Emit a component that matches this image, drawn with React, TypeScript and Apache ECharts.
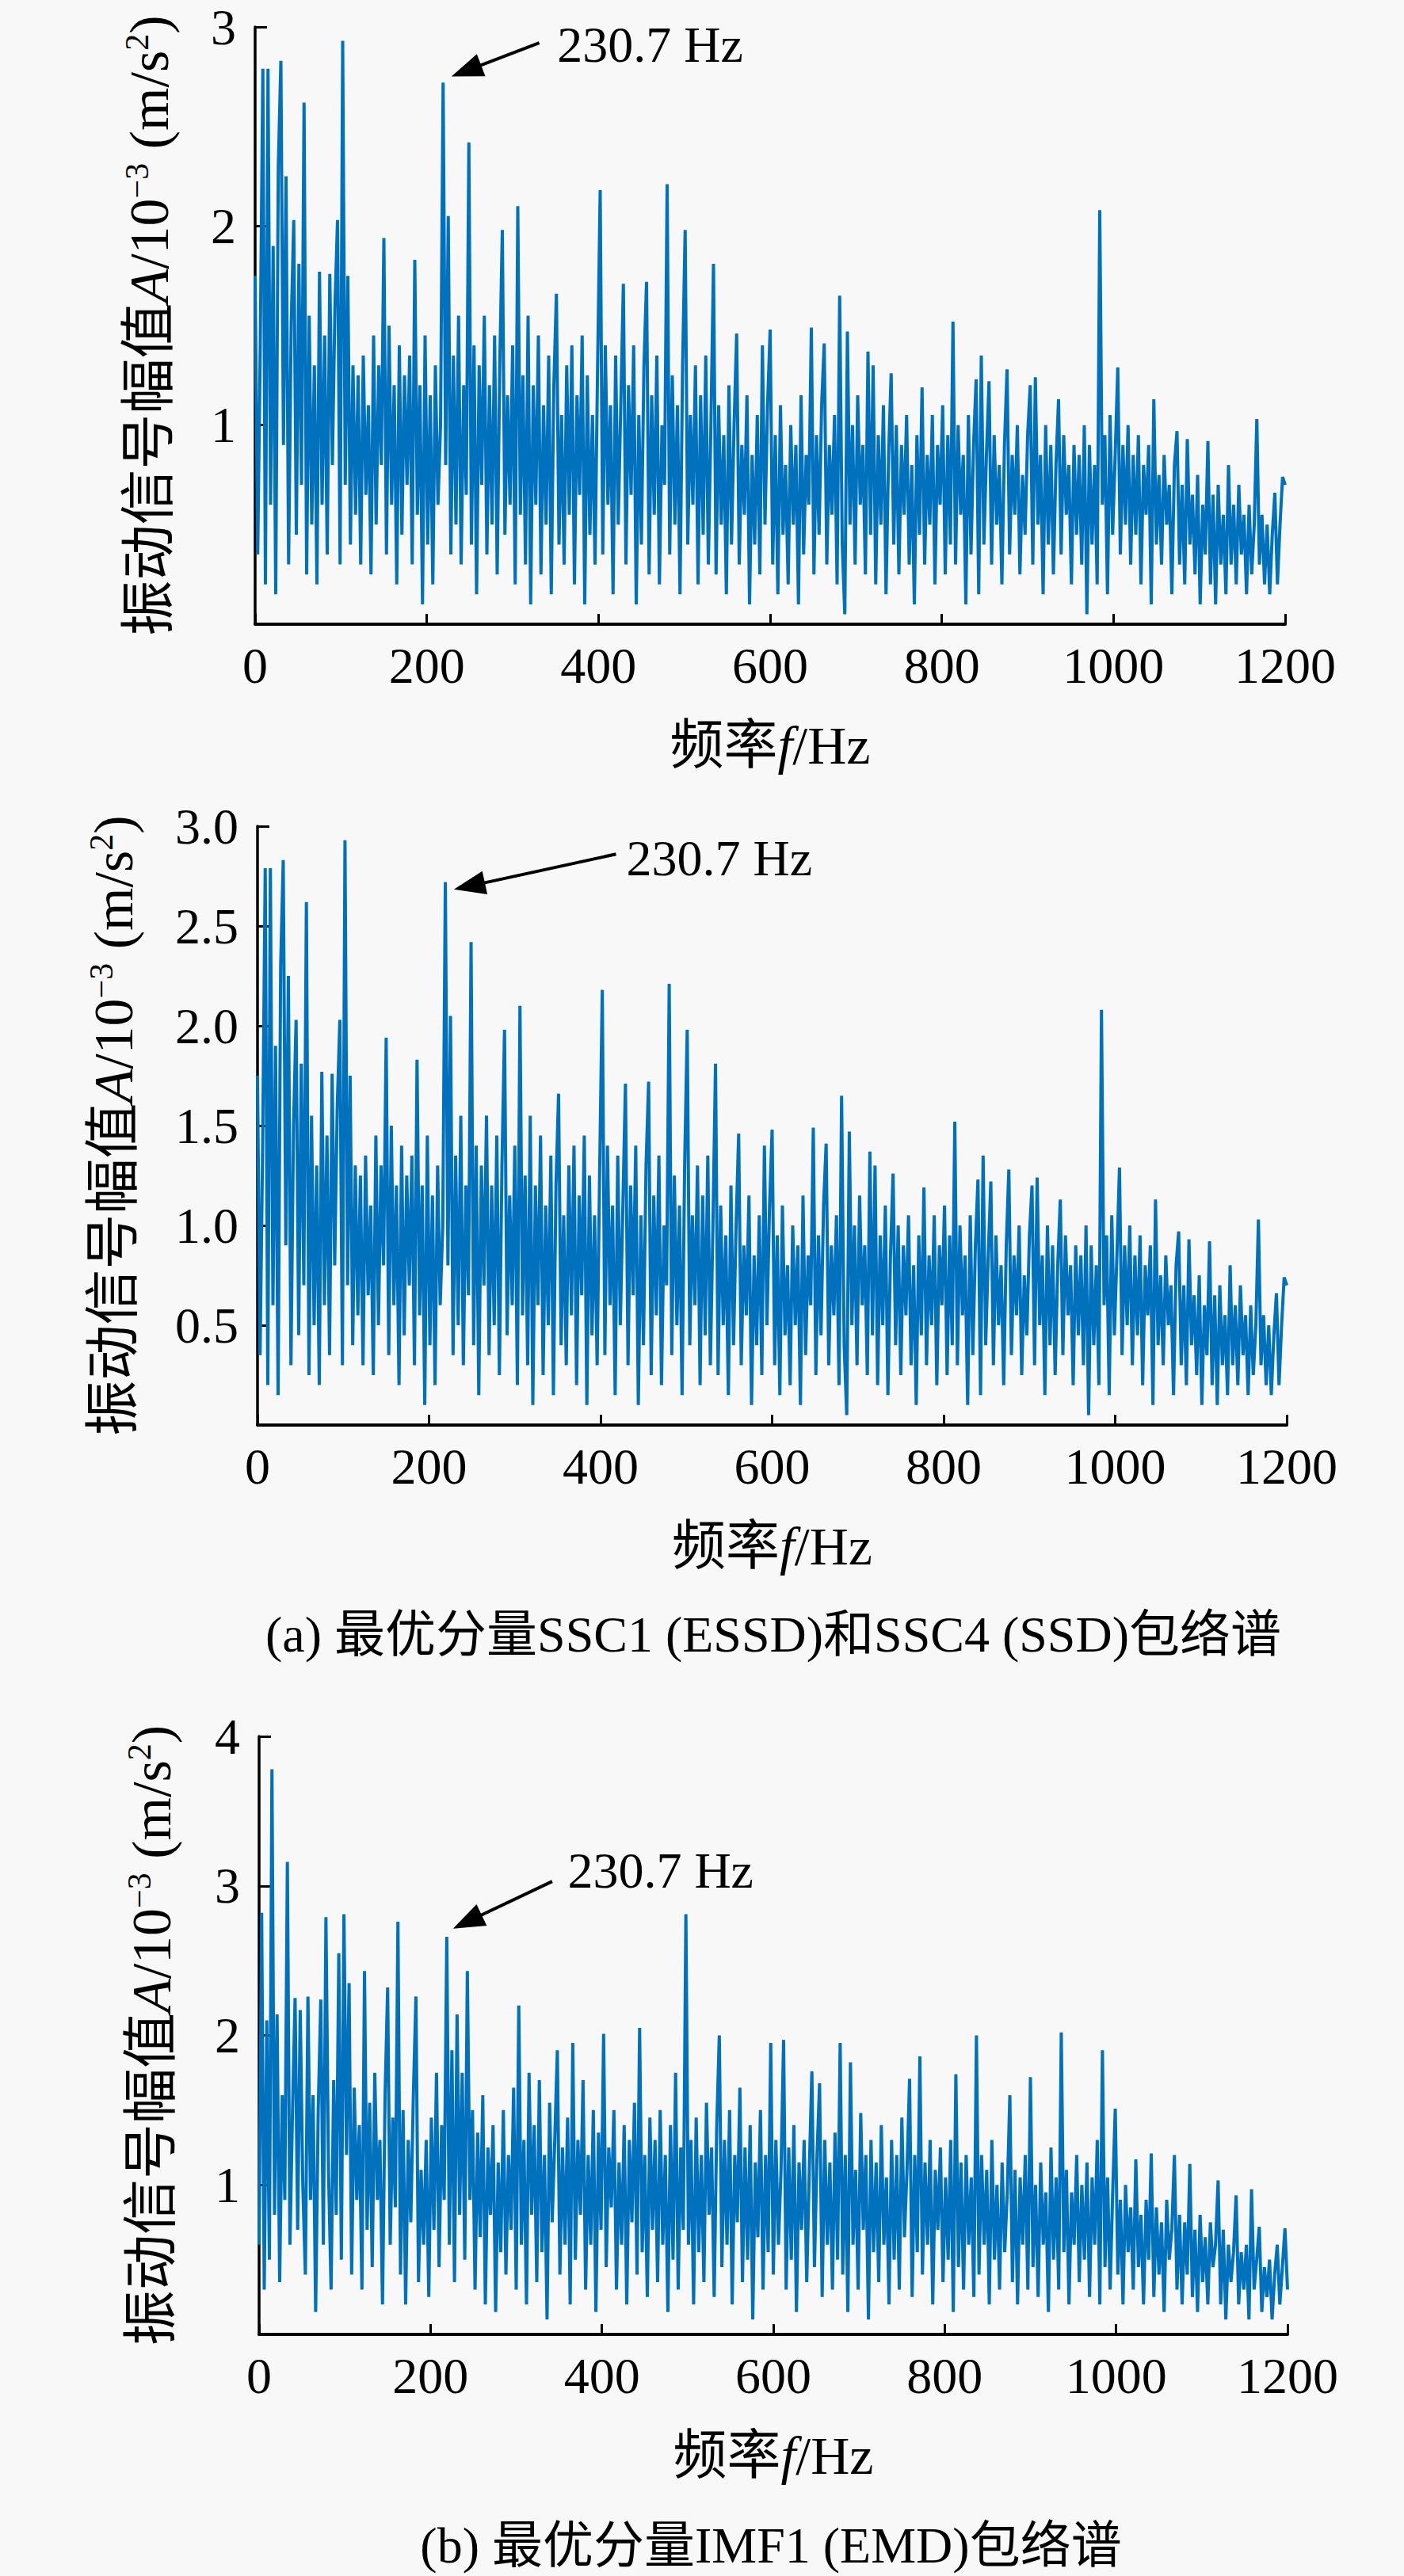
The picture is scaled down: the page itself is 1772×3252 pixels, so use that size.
import { useEffect, useRef } from "react";
import * as echarts from "echarts";

// envelope spectra, one value every freqStep Hz from 0 to 1200 Hz
const freqStep = 3;

// optimal component SSC1 (ESSD) / SSC4 (SSD) - same spectrum drawn twice
const ampSSC = [
  1.75, 0.35, 1.4, 2.79, 0.2, 2.79, 0.6, 1.9, 0.15, 2.3, 2.83, 0.9, 2.25, 0.3, 1.5, 2.03, 0.45, 1.81, 0.7, 2.62,
  0.25, 1.55, 0.5, 1.3, 0.2, 1.77, 0.6, 1.45, 0.35, 1.76, 0.8, 1.6, 2.03, 0.3, 2.93, 0.7, 1.75, 0.4, 1.3, 0.55,
  1.25, 0.3, 1.35, 0.65, 1.1, 0.25, 1.45, 0.5, 1.3, 0.8, 1.94, 0.35, 1.5, 0.6, 1.2, 0.2, 1.4, 0.45, 1.25, 0.7,
  1.35, 0.3, 1.83, 0.55, 1.2, 0.1, 1.45, 0.4, 1.15, 0.2, 1.3, 0.6, 1.0, 2.72, 0.8, 2.05, 0.35, 1.35, 0.5, 1.55,
  0.3, 1.2, 0.65, 2.42, 0.4, 1.4, 0.15, 1.3, 0.7, 1.55, 0.35, 1.2, 0.5, 1.45, 0.25, 1.3, 1.98, 0.45, 1.15, 0.6,
  1.4, 0.2, 2.1, 0.55, 1.25, 0.3, 1.55, 0.1, 1.2, 0.6, 1.45, 0.25, 1.1, 0.5, 1.35, 0.15, 1.2, 1.66, 0.4, 1.05,
  0.3, 1.3, 0.55, 1.4, 0.2, 1.15, 0.65, 1.45, 0.1, 1.25, 0.45, 1.05, 0.3, 1.3, 2.18, 0.35, 1.4, 0.6, 1.1, 0.15,
  1.35, 0.5, 1.1, 1.71, 0.3, 1.2, 0.65, 1.4, 0.1, 1.05, 0.4, 1.3, 1.72, 0.25, 1.15, 0.55, 1.35, 0.2, 1.0, 0.7,
  2.21, 0.35, 1.25, 0.5, 1.1, 0.15, 1.3, 1.98, 0.4, 1.05, 0.6, 1.3, 0.2, 1.15, 0.45, 1.35, 0.3, 1.0, 1.81, 0.25,
  1.1, 0.5, 0.95, 0.15, 1.2, 0.4, 1.0, 1.46, 0.3, 0.9, 0.55, 1.15, 0.1, 0.85, 0.4, 1.05, 0.25, 1.4, 0.5, 1.1,
  1.48, 0.3, 0.95, 0.15, 1.1, 0.45, 0.8, 0.2, 1.0, 0.5, 0.9, 0.1, 1.15, 0.35, 0.85, 0.6, 1.49, 0.25, 0.95, 0.45,
  1.1, 1.41, 0.3, 0.9, 0.55, 1.05, 0.2, 1.65, 0.4, 0.05, 1.47, 0.5, 1.0, 0.3, 1.15, 0.6, 0.9, 0.25, 1.37, 0.45,
  1.3, 0.2, 0.95, 0.5, 1.1, 0.15, 0.85, 1.26, 0.4, 1.0, 0.25, 0.9, 0.55, 1.05, 0.3, 0.8, 0.1, 0.95, 0.45, 1.19,
  0.3, 0.85, 0.5, 1.05, 0.2, 0.9, 0.6, 1.1, 0.25, 0.95, 0.4, 1.52, 0.3, 1.0, 0.55, 0.85, 0.1, 1.05, 0.35, 0.9,
  1.23, 0.15, 1.35, 0.4, 0.85, 1.22, 0.3, 0.95, 0.5, 0.8, 0.2, 0.9, 1.28, 0.35, 0.85, 0.55, 1.0, 0.25, 0.75, 0.45,
  0.95, 1.2, 0.3, 1.24, 0.5, 0.85, 0.15, 1.0, 0.4, 0.9, 0.25, 0.8, 1.13, 0.35, 0.95, 0.55, 0.8, 0.2, 0.9, 0.45,
  0.85, 0.3, 1.0, 0.05, 0.9, 0.4, 0.8, 0.2, 2.08, 0.6, 0.95, 0.15, 1.05, 0.45, 0.85, 1.29, 0.35, 0.9, 0.5, 1.0,
  0.3, 0.85, 0.45, 0.95, 0.2, 0.8, 0.55, 0.9, 0.1, 1.13, 0.4, 0.75, 0.3, 0.85, 0.5, 0.7, 0.15, 0.8, 0.97, 0.3,
  0.7, 0.2, 0.93, 0.4, 0.65, 0.25, 0.75, 0.1, 0.6, 0.35, 0.92, 0.2, 0.65, 0.1, 0.7, 0.3, 0.55, 0.15, 0.8, 0.3,
  0.6, 0.2, 0.7, 0.35, 0.55, 0.15, 0.6, 0.25, 0.5, 1.03, 0.3, 0.55, 0.2, 0.5, 0.15, 0.45, 0.66, 0.2, 0.5, 0.74,
  0.7,
];

// optimal component IMF1 (EMD)
const ampIMF = [
  0.6, 2.82, 0.3, 2.1, 0.5, 3.78, 0.8, 2.14, 0.35, 1.6, 0.9, 3.16, 0.6, 1.5, 2.25, 0.7, 2.17, 1.0, 0.4, 2.26,
  0.9, 1.6, 0.15, 1.5, 2.24, 0.6, 2.79, 1.1, 0.3, 1.7, 0.8, 2.55, 0.5, 2.81, 1.2, 2.35, 0.4, 1.65, 0.9, 1.4,
  0.3, 2.43, 0.7, 1.55, 0.45, 1.75, 0.9, 1.3, 0.2, 1.6, 2.32, 0.6, 1.45, 0.85, 2.76, 0.4, 1.5, 0.2, 1.3, 0.75,
  1.6, 2.26, 0.35, 1.1, 0.6, 1.3, 0.25, 1.45, 0.7, 1.75, 0.45, 1.4, 0.9, 2.66, 0.6, 1.9, 0.35, 2.14, 0.8, 1.75,
  0.5, 2.43, 0.9, 1.5, 0.3, 1.35, 0.65, 1.6, 0.2, 1.25, 0.8, 1.4, 0.15, 1.15, 0.55, 1.5, 0.4, 1.2, 0.7, 1.65,
  0.3, 2.2, 0.6, 1.3, 0.2, 1.75, 0.8, 1.4, 0.35, 1.7, 0.55, 1.2, 0.1, 1.55, 0.75, 1.3, 1.9, 0.4, 1.25, 0.6,
  1.45, 0.2, 1.95, 0.5, 1.3, 0.8, 1.7, 0.3, 1.2, 0.6, 1.5, 0.15, 1.35, 0.7, 2.01, 0.45, 1.25, 0.85, 1.5, 0.3,
  1.15, 0.6, 1.4, 0.2, 1.3, 0.75, 1.55, 0.4, 2.05, 0.55, 1.2, 0.25, 1.45, 0.7, 1.3, 0.35, 1.5, 0.6, 1.2, 0.15,
  1.4, 0.5, 1.75, 0.3, 1.25, 0.7, 2.81, 0.6, 1.3, 0.2, 1.45, 0.55, 1.2, 0.35, 1.55, 0.8, 1.25, 0.25, 1.4, 2.0,
  0.45, 1.3, 0.6, 1.5, 0.2, 1.2, 0.75, 1.65, 0.35, 1.25, 0.5, 1.4, 0.1, 1.15, 0.65, 1.5, 0.3, 1.2, 0.55, 1.95,
  0.4, 1.3, 0.6, 1.1, 1.97, 0.3, 1.25, 0.5, 1.4, 0.15, 1.15, 0.7, 1.3, 0.35, 1.1, 1.76, 0.45, 1.2, 1.68, 0.25,
  1.3, 0.6, 1.15, 0.3, 1.35, 0.5, 1.95, 0.4, 1.2, 0.15, 1.82, 0.6, 1.1, 0.3, 1.48, 0.7, 1.2, 0.1, 1.3, 0.55,
  1.15, 0.35, 1.4, 0.6, 1.05, 0.2, 1.3, 0.5, 1.2, 0.3, 1.45, 0.65, 1.1, 1.71, 0.25, 1.2, 0.55, 1.86, 0.4, 1.15,
  0.6, 1.3, 0.2, 1.1, 0.7, 1.25, 0.35, 1.05, 0.5, 1.3, 0.15, 1.74, 0.45, 1.15, 0.3, 1.2, 0.6, 1.05, 0.25, 2.0,
  0.4, 1.2, 0.6, 1.1, 0.2, 1.3, 0.5, 1.0, 0.3, 1.15, 0.55, 0.95, 1.6, 0.35, 1.1, 0.2, 1.05, 0.6, 1.2, 0.3,
  1.72, 0.45, 1.0, 0.25, 1.15, 0.6, 0.95, 0.15, 1.25, 0.5, 1.05, 0.3, 2.02, 0.55, 1.1, 0.2, 0.95, 0.6, 1.2, 0.35,
  1.0, 0.5, 1.15, 0.25, 1.05, 0.6, 1.3, 0.2, 1.9, 0.45, 1.05, 0.3, 0.95, 1.51, 0.4, 0.9, 0.2, 1.0, 0.55, 0.85,
  0.3, 1.17, 0.45, 0.8, 0.2, 0.9, 0.5, 1.21, 0.25, 0.85, 0.4, 0.75, 0.15, 0.9, 0.5, 0.7, 1.2, 0.3, 0.8, 0.2,
  0.75, 0.4, 1.14, 0.25, 0.7, 0.15, 0.8, 0.35, 0.65, 0.2, 0.75, 0.45, 0.6, 1.03, 0.2, 0.7, 0.1, 0.6, 0.35, 0.55,
  0.93, 0.2, 0.55, 0.3, 0.6, 0.1, 0.97, 0.3, 0.5, 0.72, 0.15, 0.45, 0.25, 0.5, 0.1, 0.4, 0.6, 0.2, 0.45, 0.71,
  0.3,
];

// annotation "230.7 Hz": arrow tail, arrow head, text anchor (data coords) per panel
const arrowSSC1 = [[331, 2.92], [246, 2.78]];
const textSSC1 = [352, 2.91];
const arrowSSC4 = [[418, 2.86], [247, 2.7]];
const textSSC4 = [430, 2.84];
const arrowIMF = [[342, 3.03], [243, 2.76]];
const textIMF = [360, 3.1];

const peakLabel = "230.7 Hz";
const captionA = "(a) 最优分量SSC1 (ESSD)和SSC4 (SSD)包络谱";
const captionB = "(b) 最优分量IMF1 (EMD)包络谱";

const FONT = "'Liberation Serif', 'Times New Roman', 'Noto Sans CJK SC', serif";
const BLUE = "#0072BD";

const yName = "{t|振动信号幅值}{i|A}{t|/10}{s|−3}{t| (m/s}{s|2}{t|)}";
const xName = "{t|频率}{i|f}{t|/Hz}";

const yRich: any = {
  t: { fontFamily: FONT, fontSize: 70, lineHeight: 72, color: "#000" },
  i: { fontFamily: FONT, fontSize: 70, lineHeight: 72, fontStyle: "italic", color: "#000" },
  s: { fontFamily: FONT, fontSize: 42, lineHeight: 38, verticalAlign: "top", color: "#000" },
};
const xRich: any = {
  t: { fontFamily: FONT, fontSize: 68, lineHeight: 70, color: "#000" },
  i: { fontFamily: FONT, fontSize: 68, lineHeight: 70, fontStyle: "italic", color: "#000" },
};

const panels = [
  { grid: { left: 322, top: 34, width: 1300, height: 754 }, yMax: 3, yStep: 1, digits: 0, yGap: 98, data: ampSSC, arrow: arrowSSC1, text: textSSC1 },
  { grid: { left: 325, top: 1043, width: 1299, height: 756 }, yMax: 3, yStep: 0.5, digits: 1, yGap: 146, data: ampSSC, arrow: arrowSSC4, text: textSSC4 },
  { grid: { left: 327, top: 2192, width: 1298, height: 755 }, yMax: 4, yStep: 1, digits: 0, yGap: 100, data: ampIMF, arrow: arrowIMF, text: textIMF },
];

function buildOption() {
  return {
    animation: false,
    backgroundColor: "#f8f8f8",
    grid: panels.map((p) => ({ ...p.grid, containLabel: false })),
    xAxis: panels.map((p, k) => ({
      type: "value",
      gridIndex: k,
      min: 0,
      max: 1200,
      interval: 200,
      axisLine: { show: true, onZero: false, lineStyle: { color: "#000", width: 4 } },
      axisTick: { show: true, inside: true, length: 13, lineStyle: { color: "#000", width: 3 } },
      splitLine: { show: false },
      axisLabel: {
        fontFamily: FONT,
        fontSize: 64,
        lineHeight: 64,
        color: "#000",
        margin: 20,
        formatter: (v: number) => String(v),
      },
      name: xName,
      nameLocation: "middle",
      nameGap: 118,
      nameTextStyle: { fontFamily: FONT, fontSize: 68, color: "#000", rich: xRich },
    })),
    yAxis: panels.map((p, k) => ({
      type: "value",
      gridIndex: k,
      min: 0,
      max: p.yMax,
      interval: p.yStep,
      axisLine: { show: true, onZero: false, lineStyle: { color: "#000", width: 3.5 } },
      axisTick: { show: true, inside: true, length: 15, lineStyle: { color: "#000", width: 3 } },
      splitLine: { show: false },
      axisLabel: {
        fontFamily: FONT,
        fontSize: 64,
        color: "#000",
        margin: 24,
        formatter: (v: number) => (v === 0 ? "" : v.toFixed(p.digits)),
      },
      name: yName,
      nameLocation: "middle",
      nameRotate: 90,
      nameGap: p.yGap,
      nameTextStyle: { fontFamily: FONT, fontSize: 70, color: "#000", rich: yRich },
    })),
    series: panels.map((p, k) => ({
      type: "line",
      xAxisIndex: k,
      yAxisIndex: k,
      data: p.data.map((v, i) => [i * freqStep, v]),
      symbol: "none",
      silent: true,
      lineStyle: { color: BLUE, width: 4 },
      itemStyle: { color: BLUE },
      markLine: {
        silent: true,
        symbol: ["none", "triangle"],
        symbolSize: [30, 40],
        lineStyle: { color: "#000", width: 4, type: "solid" },
        itemStyle: { color: "#000" },
        label: { show: false },
        emphasis: { disabled: true },
        data: [[{ coord: p.arrow[0] }, { coord: p.arrow[1] }]],
      },
      markPoint: {
        silent: true,
        symbol: "circle",
        symbolSize: 0,
        label: {
          show: true,
          position: "right",
          distance: 0,
          formatter: peakLabel,
          fontFamily: FONT,
          fontSize: 64,
          color: "#000",
        },
        data: [{ coord: p.text }],
      },
    })),
    graphic: [
      {
        type: "text",
        x: 976,
        y: 2063,
        style: {
          text: captionA,
          fill: "#000",
          font: `64px ${FONT}`,
          align: "center",
          verticalAlign: "middle",
          textAlign: "center",
          textVerticalAlign: "middle",
        },
      },
      {
        type: "text",
        x: 973,
        y: 3213,
        style: {
          text: captionB,
          fill: "#000",
          font: `64px ${FONT}`,
          align: "center",
          verticalAlign: "middle",
          textAlign: "center",
          textVerticalAlign: "middle",
        },
      },
    ],
  };
}

export default function App() {
  const chartRef = useRef<HTMLDivElement>(null);

  useEffect(() => {
    if (!chartRef.current) return;
    const chart = echarts.init(chartRef.current, null, { renderer: "svg" });
    chart.setOption(buildOption() as any);
    return () => {
      chart.dispose();
    };
  }, []);

  return (
    <div
      ref={chartRef}
      style={{ position: "absolute", left: 0, top: 0, width: 1772, height: 3252, background: "#f8f8f8" }}
    />
  );
}
